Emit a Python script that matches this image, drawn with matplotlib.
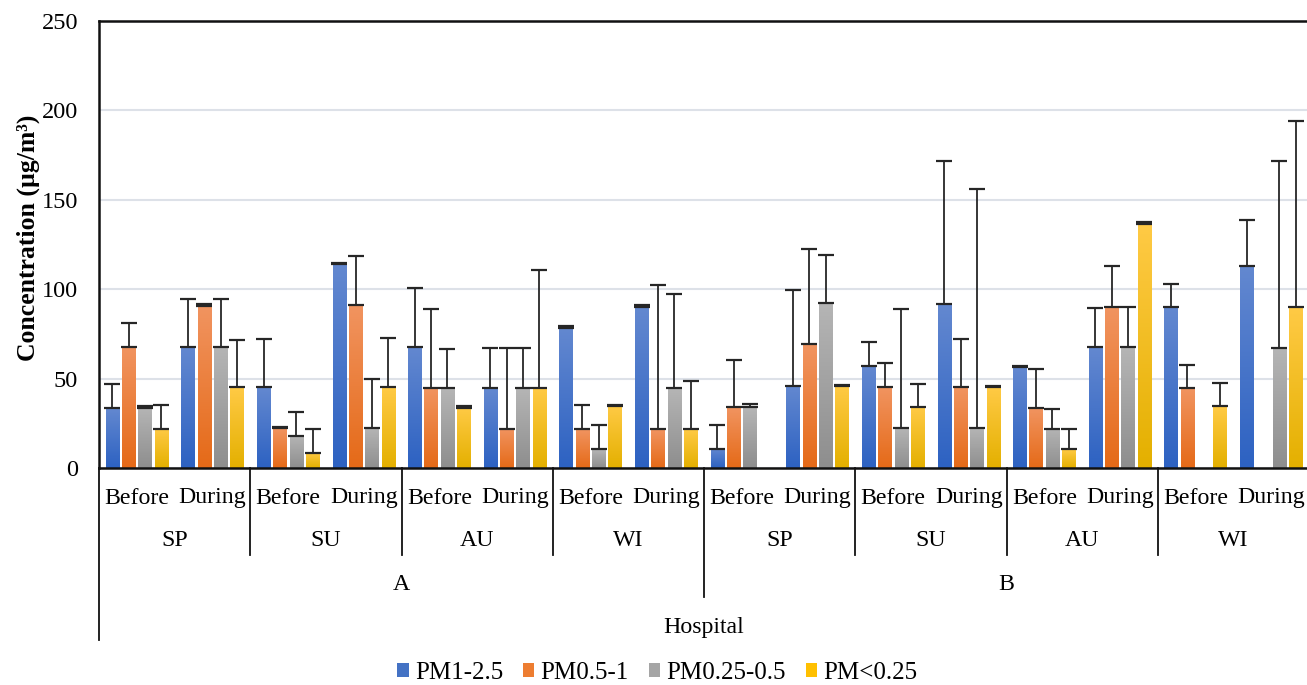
import numpy as np
import matplotlib
matplotlib.use("Agg")
import matplotlib.pyplot as plt
from matplotlib.colors import LinearSegmentedColormap
from matplotlib.patches import Patch
from matplotlib.transforms import blended_transform_factory

plt.rcParams['font.family'] = ['Liberation Serif', 'DejaVu Serif']

hospitals = ["A", "B"]
seasons = ["SP", "SU", "AU", "WI"]
periods = ["Before", "During"]
series = ["PM1-2.5", "PM0.5-1", "PM0.25-0.5", "PM<0.25"]

# values per group (A SP Before, A SP During, A SU Before, ..., B WI During)
pm1_25 = [33.4, 67.7, 45.1, 114.0, 67.7, 44.7, 78.5, 90.2,
          10.9, 45.9, 56.9, 91.5, 56.5, 67.5, 90.0, 113.0]
pm05_1 = [67.7, 90.8, 22.2, 91.3, 44.7, 22.0, 21.8, 21.6,
          34.1, 69.2, 45.3, 45.3, 33.4, 90.2, 44.7, 0.0]
pm025_05 = [33.7, 67.7, 17.9, 22.2, 44.7, 44.7, 10.4, 44.6,
            34.1, 92.3, 22.2, 22.2, 22.0, 67.5, 0.0, 67.3]
pm_lt025 = [22.0, 45.1, 8.4, 45.1, 33.6, 44.7, 34.7, 21.6,
            0.0, 45.9, 33.9, 45.3, 10.6, 136.6, 34.5, 90.0]

err1_25 = [13.6, 26.8, 27.2, 0.8, 33.0, 22.4, 0.8, 0.8,
           13.4, 53.5, 13.4, 80.4, 0.8, 22.2, 13.1, 25.9]
err05_1 = [13.6, 0.8, 0.8, 27.4, 44.0, 45.0, 13.4, 80.7,
           26.3, 53.5, 13.4, 26.8, 22.1, 22.6, 12.9, 0.0]
err025_05 = [0.8, 26.8, 13.2, 27.4, 21.9, 22.3, 13.5, 52.7,
             1.5, 26.8, 66.5, 133.6, 11.2, 22.5, 0.0, 104.2]
err_lt025 = [13.4, 26.5, 13.6, 27.6, 0.8, 66.3, 0.8, 27.1,
             0.0, 0.8, 13.3, 0.8, 11.2, 0.8, 12.9, 104.2]

values = [pm1_25, pm05_1, pm025_05, pm_lt025]
errors = [err1_25, err05_1, err025_05, err_lt025]

base_colors = ["#4472c4", "#ed7d31", "#a5a5a5", "#ffc000"]
grad = [("#6388d0", "#2d62c2"), ("#f19460", "#e56a18"),
        ("#b5b5b5", "#8e8e8e"), ("#ffca45", "#e4b000")]

W, H = 1307, 685
fig = plt.figure(figsize=(W / 100, H / 100), dpi=100)
ax = fig.add_axes([99 / W, (H - 468) / H, 1210 / W, 447 / H])

n = len(pm1_25)
x = np.arange(n) + 0.5
pitch = 0.216
bw = 0.176

ax.set_xlim(0, n)
ax.set_ylim(0, 250)

for k in range(4):
    xs = x + (k - 1.5) * pitch
    cmap = LinearSegmentedColormap.from_list("g%d" % k, [grad[k][1], grad[k][0]])
    bars = ax.bar(xs, values[k], width=bw, color=base_colors[k], zorder=2,
                  linewidth=0)
    for b, v in zip(bars, values[k]):
        if v <= 0:
            continue
        x0 = b.get_x()
        img = np.linspace(0, 1, 64).reshape(-1, 1)
        ax.imshow(img, cmap=cmap, origin="lower", aspect="auto",
                  extent=[x0, x0 + bw, 0, v], zorder=2.1, interpolation="bilinear")
    m = np.array(errors[k]) > 0
    ax.errorbar(xs[m], np.array(values[k])[m],
                yerr=[np.zeros(m.sum()), np.array(errors[k])[m]],
                fmt="none", ecolor="#262626", elinewidth=1.3, capsize=6,
                capthick=1.6, zorder=3)

ax.set_xlim(0, n)
ax.set_ylim(0, 250)
ax.set_yticks([0, 50, 100, 150, 200, 250])
ax.grid(axis="y", color="#dde1e8", linewidth=1.5, zorder=0)
ax.set_axisbelow(True)
ax.tick_params(axis="y", length=0, pad=15, labelsize=17.5)
ax.set_xticks([])
for s in ["top", "left", "bottom"]:
    ax.spines[s].set_linewidth(1.8)
    ax.spines[s].set_color("#111111")
ax.spines["right"].set_visible(False)

ax.set_ylabel("Concentration (µg/m³)", fontsize=18.5, fontweight="bold")
ax.yaxis.set_label_coords(-0.049, 0.516)

# multi-level category axis
tr = blended_transform_factory(ax.transData, fig.transFigure)
def fy(py):
    return 1 - py / H

fs = 17.2
for i in range(n):
    ax.text(x[i], fy(498), periods[i % 2], transform=tr, ha="center",
            va="center", fontsize=fs)
for j in range(8):
    ax.text(j * 2 + 1, fy(541), seasons[j % 4], transform=tr, ha="center",
            va="center", fontsize=fs)
for h in range(2):
    ax.text(h * 8 + 4, fy(584), hospitals[h], transform=tr, ha="center",
            va="center", fontsize=fs)
ax.text(8, fy(627), "Hospital", transform=tr, ha="center", va="center",
        fontsize=fs)

lines_kw = dict(transform=tr, color="#111111", linewidth=1.3, clip_on=False)
ax.plot([0, 0], [fy(468), fy(640)], **lines_kw)
for j in range(1, 8):
    if j == 4:
        ax.plot([8, 8], [fy(468), fy(597)], **lines_kw)
    else:
        ax.plot([j * 2, j * 2], [fy(468), fy(555)], **lines_kw)

handles = [Patch(facecolor=c, edgecolor="none") for c in base_colors]
fig.legend(handles, series, loc="center", bbox_to_anchor=(0.503, 1 - 673 / H),
           ncol=4, frameon=False, fontsize=18, handlelength=0.45,
           handleheight=0.45, handletextpad=0.25, columnspacing=0.8)

fig.savefig("out.png", dpi=100)
